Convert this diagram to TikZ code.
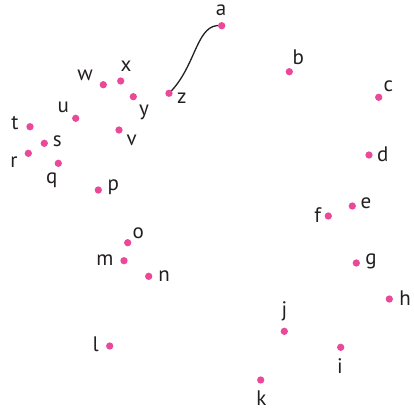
\documentclass[tikz,border=0pt]{standalone}
\usepackage{fontspec}
\setmainfont{PT Sans}
\definecolor{dotpink}{RGB}{234,72,152}
\definecolor{txt}{RGB}{35,31,32}
\begin{document}
\begin{tikzpicture}[x=1pt,y=-1pt,
  dot/.style={circle,fill=dotpink,inner sep=0pt,minimum size=7.3pt},
  lbl/.style={inner sep=0pt,text=txt,font=\fontsize{21}{25}\selectfont}]
\useasboundingbox (0,0) rectangle (414,410);
% curve
\coordinate (ca) at (221.7,25.7);
\coordinate (cz) at (169,93.3);
\draw[line width=1.3pt,txt] (cz) .. controls (197,66) and (196,22) .. (ca);
% dots
\node[dot] (a) at (221.7,25.7) {};
\node[dot] (b) at (289.3,71.7) {};
\node[dot] (c) at (378.7,97.3) {};
\node[dot] (d) at (369,155) {};
\node[dot] (e) at (352.3,206) {};
\node[dot] (f) at (328.3,216) {};
\node[dot] (g) at (356.3,263) {};
\node[dot] (h) at (389.3,299) {};
\node[dot] (i) at (340.7,347.3) {};
\node[dot] (j) at (284.3,331.3) {};
\node[dot] (k) at (260.7,380) {};
\node[dot] (l) at (109.7,346) {};
\node[dot] (m) at (124,260.7) {};
\node[dot] (n) at (148.7,276.3) {};
\node[dot] (o) at (127.7,242.7) {};
\node[dot] (p) at (98.3,190) {};
\node[dot] (q) at (58.3,163.3) {};
\node[dot] (r) at (28.3,153.3) {};
\node[dot] (s) at (44.3,143.3) {};
\node[dot] (t) at (30,126.7) {};
\node[dot] (u) at (75.7,118.3) {};
\node[dot] (v) at (119,130) {};
\node[dot] (w) at (103.3,84.7) {};
\node[dot] (x) at (120.7,81) {};
\node[dot] (y) at (133.3,96.7) {};
\node[dot] (z) at (169,93.3) {};
% labels
\node[lbl] (la) at (221,10) {a};
\node[lbl] (lb) at (298.3,57.3) {b};
\node[lbl] (lc) at (388.3,86.7) {c};
\node[lbl] (ld) at (382.7,154) {d};
\node[lbl] (le) at (366,203.3) {e};
\node[lbl] (lf) at (317.7,215) {f};
\node[lbl] (lg) at (371,261.7) {g};
\node[lbl] (lh) at (405,297.7) {h};
\node[lbl] (li) at (340,365.7) {i};
\node[lbl] (lj) at (284.3,311.7) {j};
\node[lbl] (lk) at (261.3,398.3) {k};
\node[lbl] (ll) at (95.7,344) {l};
\node[lbl] (lm) at (105,260) {m};
\node[lbl] (ln) at (164,276) {n};
\node[lbl] (lo) at (138.3,233.3) {o};
\node[lbl] (lp) at (113.3,187.3) {p};
\node[lbl] (lq) at (51.7,180) {q};
\node[lbl] (lr) at (14,162.3) {r};
\node[lbl] (ls) at (57.3,141.7) {s};
\node[lbl] (lt) at (15,123.3) {t};
\node[lbl] (lu) at (63.3,107.3) {u};
\node[lbl] (lv) at (131.7,140) {v};
\node[lbl] (lw) at (85,75) {w};
\node[lbl] (lx) at (126,66.7) {x};
\node[lbl] (ly) at (144,112.7) {y};
\node[lbl] (lz) at (181.7,98.3) {z};
\end{tikzpicture}
\end{document}
